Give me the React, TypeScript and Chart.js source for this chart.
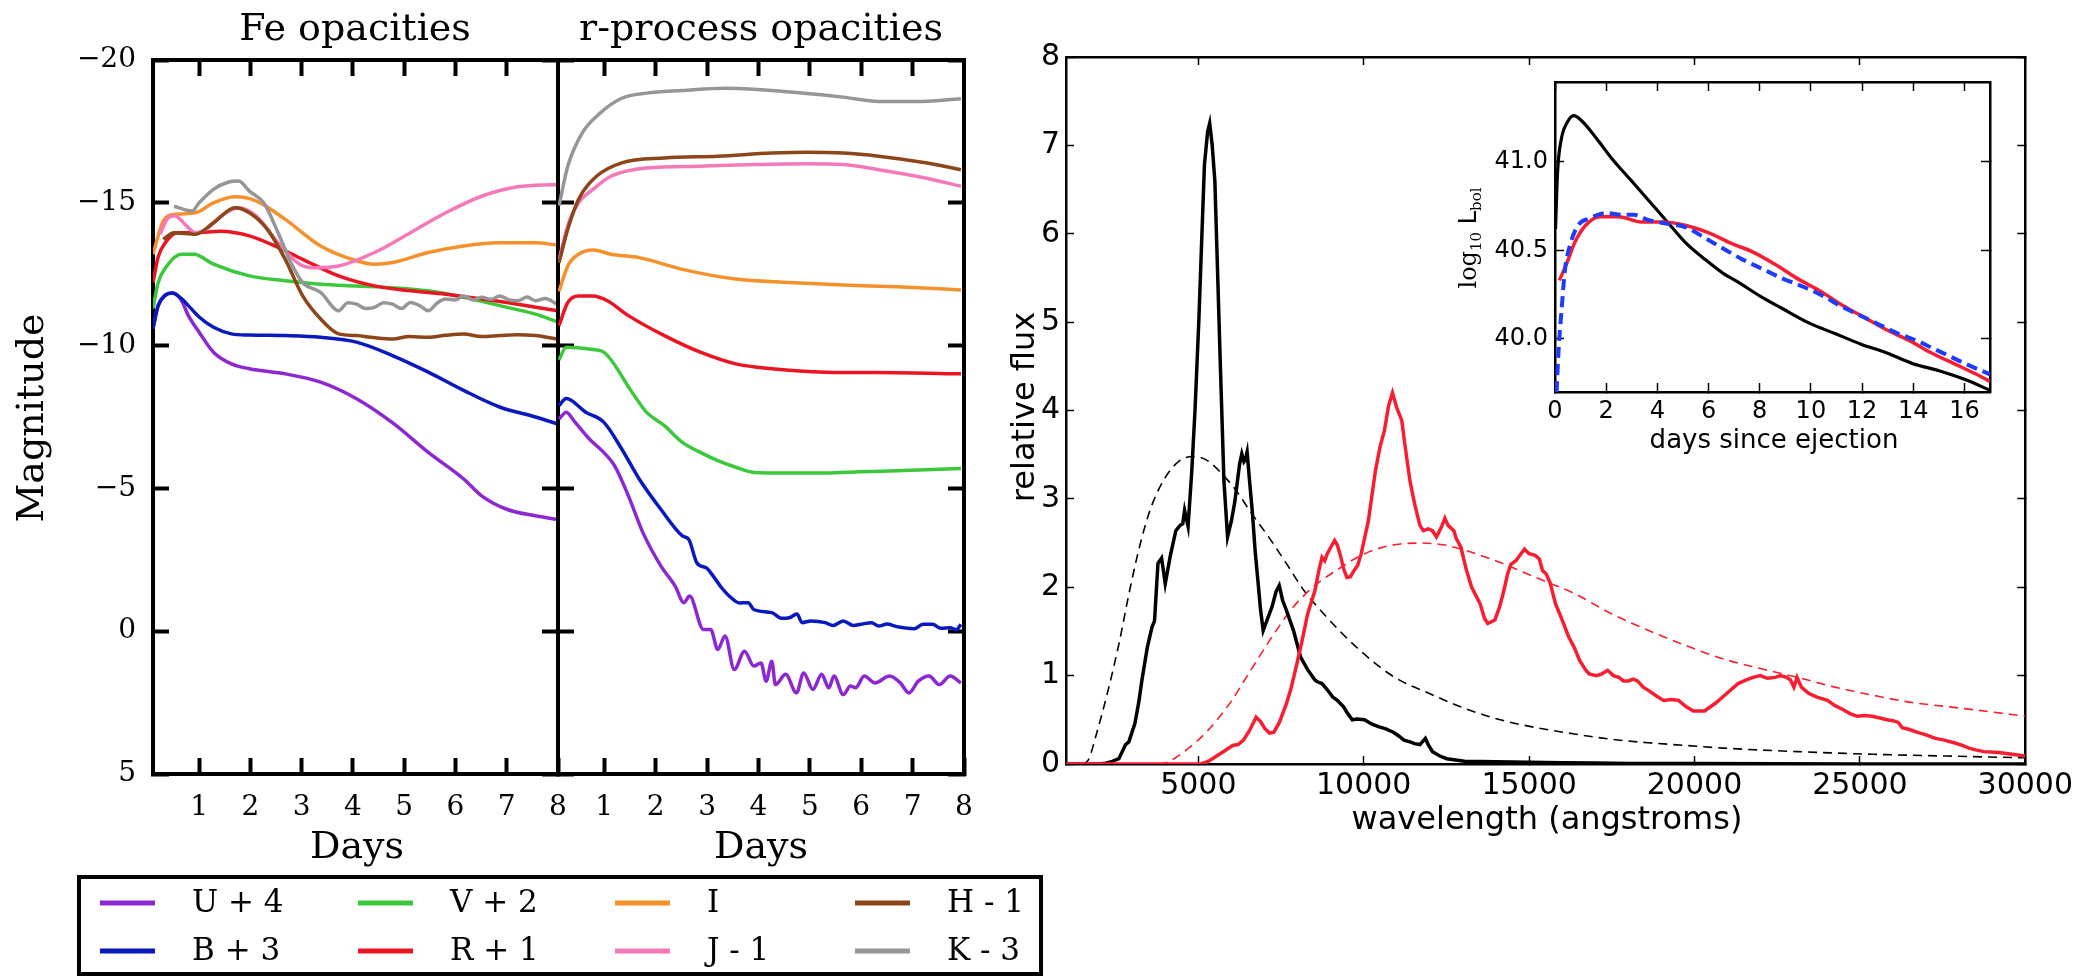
import React, { useEffect, useRef } from 'react';
import { Chart, registerables } from 'chart.js';

Chart.register(...registerables);

const W = 2085;
const H = 976;
const SERIF = "'DejaVu Serif', serif";
const SANS = "'DejaVu Sans', sans-serif";

type P = [number, number];

// ---------- tick values ----------
const DAY_TICKS = [1, 2, 3, 4, 5, 6, 7, 8];
const DAY_TOP_TICKS = [1, 2, 3, 4, 5, 6, 7];
const MAG_TICKS = [-20, -15, -10, -5, 0, 5];
const WAVE_TICKS = [5000, 10000, 15000, 20000, 25000, 30000];
const WAVE_TOP_TICKS = [5000, 10000, 15000, 20000, 25000];
const FLUX_TICKS = [0, 1, 2, 3, 4, 5, 6, 7, 8];
const INSET_DAY_TICKS = [0, 2, 4, 6, 8, 10, 12, 14, 16];
const INSET_L_TICKS = [40.0, 40.5, 41.0];

// ---------- bands ----------
const BANDS = ['U + 4', 'B + 3', 'V + 2', 'R + 1', 'I', 'J - 1', 'H - 1', 'K - 3'];
const BAND_COLORS = ['#8c28d2', '#0a19be', '#3cc83c', '#eb1423', '#f5912d', '#f578b9', '#8c4619', '#969696'];

// ---------- Fe opacities (days, magnitude) ----------
const FE_U: P[] = [[0.1, -10.6], [0.2, -11.4], [0.33, -11.75], [0.48, -11.84], [0.65, -11.6], [0.79, -11.05], [1.0, -10.47], [1.28, -9.77], [1.63, -9.36], [1.98, -9.19], [2.68, -9.01], [3.37, -8.72], [4.07, -8.14], [4.77, -7.3], [5.47, -6.26], [6.16, -5.33], [6.51, -4.74], [7.0, -4.27], [7.56, -4.04], [7.98, -3.92]];
const FE_B: P[] = [[0.1, -10.6], [0.2, -11.4], [0.33, -11.75], [0.48, -11.84], [0.65, -11.65], [0.79, -11.4], [1.0, -11.0], [1.28, -10.64], [1.63, -10.41], [1.98, -10.37], [2.68, -10.35], [3.37, -10.29], [4.07, -10.12], [4.77, -9.65], [5.47, -9.07], [6.16, -8.43], [6.86, -7.85], [7.56, -7.5], [7.98, -7.26]];
const FE_V: P[] = [[0.1, -11.3], [0.2, -12.2], [0.37, -12.79], [0.65, -13.2], [0.9, -13.2], [1.28, -12.85], [1.98, -12.44], [2.68, -12.27], [3.37, -12.15], [4.07, -12.09], [4.77, -12.03], [5.47, -11.92], [6.16, -11.69], [6.86, -11.4], [7.56, -11.1], [7.98, -10.84]];
const FE_R: P[] = [[0.1, -12.2], [0.2, -13.1], [0.34, -13.6], [0.58, -13.95], [0.93, -13.95], [1.42, -14.0], [1.98, -13.84], [2.4, -13.55], [3.02, -13.02], [3.72, -12.44], [4.42, -12.09], [5.12, -11.92], [5.81, -11.8], [6.51, -11.63], [7.21, -11.45], [7.98, -11.22]];
const FE_I: P[] = [[0.1, -13.2], [0.3, -14.36], [0.51, -14.59], [0.93, -14.65], [1.28, -15.0], [1.7, -15.21], [2.12, -15.06], [2.68, -14.42], [3.37, -13.49], [4.07, -12.97], [4.42, -12.85], [4.77, -12.91], [5.47, -13.26], [6.16, -13.49], [6.86, -13.6], [7.56, -13.6], [7.98, -13.52]];
const FE_J: P[] = [[0.24, -13.9], [0.37, -14.42], [0.52, -14.55], [0.75, -14.2], [0.93, -13.95], [1.14, -14.07], [1.42, -14.53], [1.77, -14.83], [2.12, -14.53], [2.54, -13.6], [2.96, -12.85], [3.23, -12.73], [3.72, -12.79], [4.42, -13.26], [5.12, -13.95], [5.81, -14.65], [6.51, -15.23], [7.21, -15.56], [7.98, -15.64]];
const FE_H: P[] = [[0.3, -13.72], [0.51, -13.95], [0.93, -13.9], [1.28, -14.3], [1.7, -14.83], [1.98, -14.65], [2.33, -14.07], [2.68, -13.02], [3.02, -11.74], [3.37, -10.93], [3.72, -10.41], [4.07, -10.35], [4.4, -10.28], [4.77, -10.23], [5.1, -10.32], [5.47, -10.29], [5.8, -10.36], [6.16, -10.41], [6.5, -10.32], [6.86, -10.35], [7.2, -10.38], [7.56, -10.35], [7.98, -10.23]];
const FE_K: P[] = [[0.51, -14.88], [0.86, -14.71], [1.0, -15.0], [1.28, -15.47], [1.56, -15.72], [1.77, -15.76], [1.98, -15.41], [2.26, -15.0], [2.54, -13.95], [2.82, -12.79], [3.02, -12.21], [3.37, -11.86], [3.72, -11.22], [3.9, -11.5], [4.07, -11.45], [4.25, -11.3], [4.42, -11.34], [4.6, -11.5], [4.77, -11.45], [4.95, -11.3], [5.12, -11.51], [5.3, -11.4], [5.47, -11.22], [5.65, -11.5], [5.81, -11.63], [6.0, -11.6], [6.16, -11.74], [6.35, -11.6], [6.51, -11.69], [6.7, -11.62], [6.86, -11.74], [7.05, -11.6], [7.21, -11.57], [7.4, -11.7], [7.56, -11.57], [7.75, -11.65], [7.98, -11.45]];

// ---------- r-process opacities (days, magnitude) ----------
const RP_U: P[] = [[0.12, -7.43], [0.26, -7.67], [0.43, -7.32], [0.71, -6.73], [0.99, -6.26], [1.2, -5.8], [1.47, -4.74], [1.75, -3.46], [2.1, -2.29], [2.38, -1.58], [2.55, -1.0], [2.66, -1.23], [2.93, -0.06], [3.07, -0.06], [3.21, 0.64], [3.35, 0.17], [3.53, 1.34], [3.73, 0.7], [3.91, 1.22], [4.05, 1.11], [4.15, 1.75], [4.26, 1.05], [4.33, 1.87], [4.53, 1.51], [4.74, 2.16], [4.88, 1.46], [5.06, 2.04], [5.23, 1.51], [5.37, 1.98], [5.47, 1.57], [5.65, 2.22], [5.79, 1.92], [5.89, 1.98], [6.06, 1.57], [6.27, 1.81], [6.55, 1.57], [6.76, 1.81], [6.93, 2.16], [7.11, 1.75], [7.32, 1.57], [7.52, 1.87], [7.73, 1.57], [7.94, 1.81]];
const RP_B: P[] = [[0.12, -7.9], [0.26, -8.15], [0.64, -7.67], [0.99, -7.32], [1.34, -6.38], [1.68, -5.33], [2.1, -4.27], [2.52, -3.34], [2.65, -3.2], [2.8, -2.4], [3.0, -2.2], [3.07, -2.05], [3.28, -1.53], [3.45, -1.2], [3.63, -0.99], [3.8, -1.0], [3.91, -0.76], [4.26, -0.65], [4.45, -0.45], [4.6, -0.47], [4.75, -0.6], [4.85, -0.3], [5.02, -0.36], [5.3, -0.3], [5.45, -0.2], [5.65, -0.36], [5.85, -0.2], [5.99, -0.24], [6.2, -0.3], [6.34, -0.18], [6.5, -0.25], [6.69, -0.16], [7.04, -0.09], [7.2, -0.24], [7.39, -0.24], [7.55, -0.1], [7.73, -0.12], [7.85, -0.05], [7.94, -0.24]];
const RP_V: P[] = [[0.12, -9.5], [0.26, -9.94], [0.78, -9.86], [0.99, -9.77], [1.54, -8.37], [1.82, -7.67], [2.17, -7.2], [2.52, -6.61], [2.87, -6.26], [3.21, -5.97], [3.56, -5.74], [3.91, -5.56], [4.6, -5.54], [5.3, -5.54], [5.99, -5.58], [6.69, -5.62], [7.94, -5.7]];
const RP_R: P[] = [[0.12, -10.7], [0.29, -11.51], [0.5, -11.74], [0.78, -11.74], [1.06, -11.57], [1.47, -11.05], [2.17, -10.35], [2.87, -9.77], [3.56, -9.36], [4.26, -9.19], [5.3, -9.07], [6.69, -9.05], [7.94, -9.01]];
const RP_I: P[] = [[0.12, -11.9], [0.29, -12.79], [0.5, -13.2], [0.78, -13.35], [1.13, -13.2], [1.68, -13.08], [2.52, -12.67], [3.56, -12.33], [4.6, -12.21], [5.65, -12.12], [6.69, -12.06], [7.94, -11.95]];
const RP_J: P[] = [[0.12, -13.0], [0.29, -14.2], [0.5, -15.0], [0.78, -15.47], [1.13, -15.93], [1.82, -16.22], [2.87, -16.28], [3.91, -16.34], [4.95, -16.37], [5.65, -16.34], [6.34, -16.16], [7.25, -15.87], [7.94, -15.58]];
const RP_H: P[] = [[0.12, -12.9], [0.29, -14.07], [0.5, -15.12], [0.85, -15.93], [1.34, -16.4], [2.17, -16.57], [3.21, -16.63], [4.26, -16.74], [4.95, -16.77], [5.65, -16.74], [6.34, -16.63], [7.25, -16.4], [7.94, -16.16]];
const RP_K: P[] = [[0.12, -14.9], [0.29, -16.28], [0.57, -17.44], [0.92, -18.14], [1.34, -18.66], [1.82, -18.84], [2.52, -18.93], [3.35, -19.01], [3.91, -18.98], [4.74, -18.86], [5.65, -18.7], [6.34, -18.55], [7.04, -18.55], [7.94, -18.64]];

// ---------- spectra (wavelength in angstroms, relative flux) ----------
const SPEC_FE: P[] = [[1000, 0], [2000, 0], [2200, 0.01], [2400, 0.03], [2600, 0.06], [2800, 0.22], [2900, 0.25], [3084, 0.46], [3200, 0.7], [3296, 0.95], [3458, 1.32], [3600, 1.55], [3676, 1.62], [3780, 2.27], [3890, 2.33], [4000, 2.04], [4150, 2.35], [4320, 2.64], [4450, 2.7], [4530, 2.72], [4585, 2.87], [4690, 2.69], [4800, 3.3], [4900, 4.0], [5015, 5.01], [5100, 5.9], [5185, 6.78], [5280, 7.15], [5344, 7.25], [5420, 7.0], [5500, 6.6], [5580, 5.6], [5667, 4.5], [5775, 3.2], [5884, 2.57], [6000, 2.75], [6100, 2.96], [6250, 3.4], [6315, 3.51], [6380, 3.42], [6420, 3.44], [6475, 3.53], [6550, 3.2], [6638, 2.83], [6720, 2.4], [6800, 2.08], [6880, 1.75], [6961, 1.51], [7100, 1.65], [7230, 1.78], [7350, 1.95], [7446, 2.02], [7550, 1.85], [7661, 1.74], [7878, 1.51], [8093, 1.21], [8300, 1.07], [8524, 0.95], [8600, 0.93], [8740, 0.91], [8900, 0.84], [9058, 0.76], [9200, 0.72], [9386, 0.65], [9500, 0.58], [9655, 0.5], [9800, 0.51], [10022, 0.5], [10250, 0.45], [10464, 0.42], [10650, 0.4], [10895, 0.36], [11050, 0.32], [11218, 0.27], [11400, 0.25], [11540, 0.23], [11700, 0.22], [11864, 0.29], [11950, 0.22], [12080, 0.14], [12300, 0.09], [12510, 0.06], [13050, 0.03], [14000, 0.025], [15000, 0.02], [16000, 0.015], [17000, 0.01], [18000, 0.005], [20000, 0.005], [25000, 0], [30000, 0]];
const SPEC_RP: P[] = [[1000, 0], [5075, 0], [5300, 0.03], [5507, 0.08], [5800, 0.15], [6040, 0.21], [6200, 0.22], [6364, 0.27], [6550, 0.38], [6747, 0.53], [6880, 0.48], [7015, 0.4], [7150, 0.35], [7285, 0.36], [7450, 0.47], [7661, 0.68], [7800, 0.85], [7984, 1.14], [8150, 1.42], [8307, 1.7], [8524, 1.96], [8650, 2.2], [8740, 2.34], [8820, 2.3], [8900, 2.38], [9000, 2.45], [9120, 2.53], [9200, 2.48], [9280, 2.38], [9400, 2.2], [9493, 2.11], [9600, 2.12], [9710, 2.19], [9820, 2.25], [9925, 2.38], [10140, 2.75], [10355, 3.32], [10500, 3.6], [10625, 3.77], [10750, 4.05], [10870, 4.2], [11000, 4.03], [11150, 3.89], [11250, 3.6], [11400, 3.2], [11540, 2.94], [11700, 2.7], [11804, 2.64], [11950, 2.66], [12080, 2.64], [12200, 2.57], [12350, 2.68], [12455, 2.78], [12550, 2.7], [12726, 2.64], [12800, 2.55], [12941, 2.45], [13100, 2.2], [13264, 2.0], [13400, 1.9], [13523, 1.81], [13650, 1.65], [13750, 1.59], [13966, 1.63], [14111, 1.78], [14235, 1.96], [14350, 2.15], [14450, 2.26], [14600, 2.3], [14700, 2.35], [14860, 2.43], [15000, 2.38], [15180, 2.36], [15310, 2.32], [15405, 2.19], [15518, 2.15], [15635, 2.05], [15800, 1.81], [15969, 1.66], [16194, 1.44], [16363, 1.32], [16532, 1.17], [16700, 1.07], [16813, 1.02], [17040, 1.0], [17200, 1.02], [17376, 1.06], [17550, 1.0], [17714, 0.98], [17850, 0.94], [17996, 0.94], [18150, 0.96], [18277, 0.94], [18450, 0.87], [18615, 0.83], [18850, 0.77], [19065, 0.72], [19300, 0.73], [19516, 0.72], [19741, 0.65], [19966, 0.6], [20150, 0.6], [20304, 0.6], [20642, 0.69], [20980, 0.8], [21317, 0.91], [21550, 0.95], [21768, 0.98], [21993, 1.0], [22200, 0.97], [22444, 0.98], [22600, 1.0], [22781, 0.98], [22900, 0.95], [23006, 0.87], [23100, 0.98], [23232, 0.87], [23450, 0.8], [23682, 0.76], [24020, 0.72], [24250, 0.66], [24470, 0.62], [24700, 0.57], [24921, 0.54], [25150, 0.55], [25371, 0.54], [25600, 0.52], [25821, 0.5], [26000, 0.49], [26160, 0.47], [26280, 0.41], [26500, 0.39], [26722, 0.36], [27000, 0.33], [27285, 0.29], [27550, 0.27], [27848, 0.24], [28100, 0.21], [28298, 0.18], [28500, 0.16], [28749, 0.14], [29199, 0.13], [29600, 0.11], [30000, 0.09]];
const BB_FE: P[] = [[1500, 0], [1681, 0.05], [1950, 0.38], [2270, 0.83], [2600, 1.36], [2922, 1.96], [3244, 2.49], [3567, 2.9], [3998, 3.24], [4430, 3.43], [4860, 3.48], [5290, 3.43], [5721, 3.28], [6153, 3.09], [6584, 2.85], [7124, 2.57], [7661, 2.27], [8200, 1.96], [8740, 1.72], [9815, 1.31], [10895, 0.99], [11972, 0.8], [13050, 0.63], [14126, 0.5], [15237, 0.41], [16363, 0.34], [17489, 0.28], [18615, 0.24], [19741, 0.21], [20867, 0.18], [23119, 0.14], [25371, 0.11], [27623, 0.09], [30000, 0.07]];
const BB_RP: P[] = [[3800, 0], [4000, 0.01], [4644, 0.16], [5290, 0.38], [5938, 0.68], [6584, 1.06], [7230, 1.44], [7878, 1.78], [8524, 2.02], [9170, 2.19], [9815, 2.34], [10464, 2.44], [11110, 2.49], [11755, 2.5], [12403, 2.48], [13050, 2.42], [14126, 2.28], [15203, 2.11], [16363, 1.93], [17489, 1.7], [18615, 1.51], [19741, 1.34], [20867, 1.19], [21993, 1.08], [23119, 0.98], [24245, 0.87], [25371, 0.78], [26497, 0.7], [27623, 0.65], [28749, 0.6], [30000, 0.54]];

// ---------- inset: log10 L_bol vs days since ejection ----------
const LBOL_FE: P[] = [[0.02, 40.62], [0.1, 40.94], [0.25, 41.13], [0.47, 41.22], [0.73, 41.26], [1.05, 41.23], [1.63, 41.13], [2.21, 41.02], [2.94, 40.9], [3.67, 40.78], [4.39, 40.66], [5.12, 40.54], [5.85, 40.45], [6.57, 40.37], [7.16, 40.32], [8.03, 40.24], [8.9, 40.17], [9.92, 40.09], [10.94, 40.03], [11.96, 39.97], [12.97, 39.92], [13.99, 39.86], [15.01, 39.82], [16.03, 39.77], [17, 39.71]];
const LBOL_RP: P[] = [[0.17, 40.33], [0.47, 40.43], [0.76, 40.54], [1.19, 40.64], [1.77, 40.69], [2.5, 40.69], [3.37, 40.66], [4.25, 40.66], [5.12, 40.64], [5.99, 40.6], [6.87, 40.54], [7.74, 40.49], [8.61, 40.42], [9.48, 40.34], [10.36, 40.27], [11.23, 40.19], [12.1, 40.12], [12.97, 40.05], [13.85, 39.99], [14.72, 39.92], [15.59, 39.86], [16.47, 39.8], [17, 39.76]];
const LBOL_MIX: P[] = [[0.06, 39.7], [0.15, 39.96], [0.25, 40.15], [0.39, 40.39], [0.61, 40.54], [0.9, 40.64], [1.34, 40.68], [1.99, 40.71], [2.65, 40.7], [3.08, 40.7], [3.67, 40.67], [4.39, 40.65], [5.12, 40.63], [5.85, 40.57], [6.57, 40.51], [7.3, 40.45], [8.17, 40.39], [8.9, 40.34], [9.77, 40.29], [10.5, 40.24], [11.23, 40.18], [11.96, 40.13], [12.68, 40.08], [13.41, 40.03], [14.14, 39.99], [14.72, 39.95], [15.45, 39.9], [16.03, 39.86], [17, 39.8]];

const FE_SERIES = [FE_U, FE_B, FE_V, FE_R, FE_I, FE_J, FE_H, FE_K];
const RP_SERIES = [RP_U, RP_B, RP_V, RP_R, RP_I, RP_J, RP_H, RP_K];

// ---------- helpers ----------
type TextItem = { t: string; x: number; y: number; f: string; a?: CanvasTextAlign; b?: CanvasTextBaseline; r?: boolean };

function drawTexts(ctx: CanvasRenderingContext2D, items: TextItem[]) {
  for (const it of items) {
    ctx.save();
    ctx.font = it.f;
    ctx.fillStyle = '#000';
    ctx.textAlign = it.a ?? 'center';
    ctx.textBaseline = it.b ?? 'alphabetic';
    ctx.translate(it.x, it.y);
    if (it.r) ctx.rotate(-Math.PI / 2);
    ctx.fillText(it.t, 0, 0);
    ctx.restore();
  }
}

const minusFmt = (v: number) => (v < 0 ? '\u2212' + Math.abs(v) : String(v));

type Area = { left: number; top: number; right: number; bottom: number };

type AxisCfg = {
  area: Area;
  xMin: number; xMax: number; xTicks: number[]; xTopTicks: number[];
  yMin: number; yMax: number; yTicks: number[]; yRightTicks: number[]; reverseY: boolean;
  tl: number; tw: number; bw: number; font: any; showX: boolean; showY: boolean;
  padX: number; padY: number; xFmt: (v: number) => string; yFmt: (v: number) => string;
};

function buildScales(c: AxisCfg) {
  const grid = { display: true, drawOnChartArea: false, drawTicks: true, tickLength: -c.tl, tickWidth: c.tw, tickColor: '#000', color: '#000' };
  const border = { display: true, width: c.bw, color: '#000' };
  const setTicks = (vals: number[]) => (s: any) => { s.ticks = vals.map((v) => ({ value: v })); };
  const bottomH = H - c.area.bottom;
  const leftW = c.area.left;
  const common = { type: 'linear', bounds: 'data', grid, border };
  return {
    x: { ...common, axis: 'x', position: 'bottom', min: c.xMin, max: c.xMax, afterBuildTicks: setTicks(c.xTicks),
      afterFit: (s: any) => { s.height = bottomH; },
      ticks: { display: c.showX, font: c.font, color: '#000', padding: c.padX, autoSkip: false, maxRotation: 0, minRotation: 0, callback: (v: any) => c.xFmt(Number(v)) } },
    x2: { ...common, axis: 'x', position: 'top', min: c.xMin, max: c.xMax, afterBuildTicks: setTicks(c.xTopTicks),
      afterFit: (s: any) => { s.height = 0; }, ticks: { display: false } },
    y: { ...common, axis: 'y', position: 'left', min: c.yMin, max: c.yMax, reverse: c.reverseY, afterBuildTicks: setTicks(c.yTicks),
      afterFit: (s: any) => { s.width = leftW; },
      ticks: { display: c.showY, font: c.font, color: '#000', padding: c.padY, autoSkip: false, callback: (v: any) => c.yFmt(Number(v)) } },
    y2: { ...common, axis: 'y', position: 'right', min: c.yMin, max: c.yMax, reverse: c.reverseY, afterBuildTicks: setTicks(c.yRightTicks),
      afterFit: (s: any) => { s.width = 0; }, ticks: { display: false } },
  };
}

function line(label: string, pts: P[], color: string, width: number, extra: any = {}) {
  return {
    label,
    data: pts.map(([x, y]) => ({ x, y })),
    borderColor: color,
    backgroundColor: color,
    borderWidth: width,
    pointRadius: 0,
    fill: false,
    ...extra,
  };
}

function baseOptions(area: Area, scales: any) {
  return {
    responsive: false,
    maintainAspectRatio: false,
    animation: false,
    devicePixelRatio: 1,
    events: [],
    layout: { padding: { left: 0, top: area.top, right: W - area.right, bottom: 0 } },
    plugins: { legend: { display: false }, tooltip: { enabled: false }, title: { display: false } },
    scales,
  };
}

function magDatasets(series: P[][]) {
  const list = series.map((pts, i) => line(BANDS[i], pts, BAND_COLORS[i], 3.5, { cubicInterpolationMode: 'monotone' }));
  return list.reverse();
}

// ---------- chart factories ----------
const FE_AREA: Area = { left: 153, top: 60, right: 558, bottom: 774 };
const RP_AREA: Area = { left: 558, top: 60, right: 964, bottom: 774 };
const SPEC_AREA: Area = { left: 1066, top: 57, right: 2027, bottom: 764 };
const INSET_AREA: Area = { left: 1555, top: 82, right: 1990, bottom: 392 };

function makeFe() {
  const scales = buildScales({
    area: FE_AREA,
    xMin: 0.1, xMax: 8, xTicks: DAY_TICKS, xTopTicks: DAY_TOP_TICKS,
    yMin: -20, yMax: 5, yTicks: MAG_TICKS, yRightTicks: MAG_TICKS, reverseY: true,
    tl: 16, tw: 4, bw: 4, font: { family: SERIF, size: 28 }, showX: true, showY: true,
    padX: 33, padY: 33, xFmt: (v) => String(v), yFmt: minusFmt,
  });
  const texts: TextItem[] = [
    { t: 'Fe opacities', x: 355, y: 40, f: `38px ${SERIF}` },
    { t: 'Magnitude', x: 43, y: 418, f: `38px ${SERIF}`, r: true },
    { t: 'Days', x: 357, y: 858, f: `38px ${SERIF}` },
  ];
  const legendPlugin = {
    id: 'feText',
    afterDraw(chart: any) {
      const ctx: CanvasRenderingContext2D = chart.ctx;
      drawTexts(ctx, texts);
      ctx.save();
      ctx.strokeStyle = '#000';
      ctx.lineWidth = 4;
      ctx.strokeRect(79, 877, 962, 97);
      const lineX = [100, 358, 615, 855];
      const textX = [192, 450, 707, 947];
      const rowY = [904, 952];
      BANDS.forEach((b, i) => {
        const col = Math.floor(i / 2);
        const row = i % 2;
        ctx.strokeStyle = BAND_COLORS[i];
        ctx.lineWidth = 5;
        ctx.beginPath();
        ctx.moveTo(lineX[col], rowY[row] - 1);
        ctx.lineTo(lineX[col] + 55, rowY[row] - 1);
        ctx.stroke();
        ctx.fillStyle = '#000';
        ctx.font = `31px ${SERIF}`;
        ctx.textAlign = 'left';
        ctx.textBaseline = 'middle';
        ctx.fillText(b, textX[col], rowY[row]);
      });
      ctx.restore();
    },
  };
  return {
    type: 'line',
    data: { datasets: magDatasets(FE_SERIES) },
    options: baseOptions(FE_AREA, scales),
    plugins: [legendPlugin],
  };
}

function makeRp() {
  const scales = buildScales({
    area: RP_AREA,
    xMin: 0.1, xMax: 8, xTicks: DAY_TICKS, xTopTicks: DAY_TOP_TICKS,
    yMin: -20, yMax: 5, yTicks: MAG_TICKS, yRightTicks: MAG_TICKS, reverseY: true,
    tl: 16, tw: 4, bw: 4, font: { family: SERIF, size: 28 }, showX: true, showY: false,
    padX: 33, padY: 33, xFmt: (v) => String(v), yFmt: minusFmt,
  });
  const texts: TextItem[] = [
    { t: 'r-process opacities', x: 761, y: 40, f: `38px ${SERIF}` },
    { t: 'Days', x: 761, y: 858, f: `38px ${SERIF}` },
  ];
  return {
    type: 'line',
    data: { datasets: magDatasets(RP_SERIES) },
    options: baseOptions(RP_AREA, scales),
    plugins: [{ id: 'rpText', afterDraw(chart: any) { drawTexts(chart.ctx, texts); } }],
  };
}

const SPEC_RED = '#f81e32';

function makeSpectrum() {
  const scales = buildScales({
    area: SPEC_AREA,
    xMin: 1000, xMax: 30000, xTicks: WAVE_TICKS, xTopTicks: WAVE_TOP_TICKS,
    yMin: 0, yMax: 8, yTicks: FLUX_TICKS, yRightTicks: FLUX_TICKS, reverseY: false,
    tl: 8, tw: 1.5, bw: 2.5, font: { family: SANS, size: 30 }, showX: true, showY: true,
    padX: 12, padY: 14, xFmt: (v) => String(v), yFmt: (v) => String(v),
  });
  const texts: TextItem[] = [
    { t: 'relative flux', x: 1034, y: 407, f: `32px ${SANS}`, r: true },
    { t: 'wavelength (angstroms)', x: 1547, y: 829, f: `32px ${SANS}` },
  ];
  return {
    type: 'line',
    data: {
      datasets: [
        line('r-process spectrum', SPEC_RP, SPEC_RED, 3.5, { tension: 0 }),
        line('Fe spectrum', SPEC_FE, '#000', 3.5, { tension: 0 }),
        line('r-process blackbody', BB_RP, SPEC_RED, 1.6, { borderDash: [9, 6], cubicInterpolationMode: 'monotone' }),
        line('Fe blackbody', BB_FE, '#000', 1.6, { borderDash: [9, 6], cubicInterpolationMode: 'monotone' }),
      ],
    },
    options: baseOptions(SPEC_AREA, scales),
    plugins: [{ id: 'specText', afterDraw(chart: any) { drawTexts(chart.ctx, texts); } }],
  };
}

function makeInset() {
  const scales = buildScales({
    area: INSET_AREA,
    xMin: 0, xMax: 17, xTicks: INSET_DAY_TICKS, xTopTicks: INSET_DAY_TICKS,
    yMin: 39.7, yMax: 41.45, yTicks: INSET_L_TICKS, yRightTicks: INSET_L_TICKS, reverseY: false,
    tl: 9, tw: 1.5, bw: 2.5, font: { family: SANS, size: 24 }, showX: true, showY: true,
    padX: 14, padY: 16, xFmt: (v) => String(v), yFmt: (v) => v.toFixed(1),
  });
  const texts: TextItem[] = [{ t: 'days since ejection', x: 1774, y: 448, f: `26px ${SANS}` }];
  const plugin = {
    id: 'insetText',
    beforeDraw(chart: any) {
      const { ctx, chartArea: a } = chart;
      ctx.save();
      ctx.fillStyle = '#fff';
      ctx.fillRect(a.left, a.top, a.right - a.left, a.bottom - a.top);
      ctx.restore();
    },
    afterDraw(chart: any) {
      const ctx: CanvasRenderingContext2D = chart.ctx;
      drawTexts(ctx, texts);
      const parts = [
        { t: 'log', f: `24px ${SERIF}`, dy: 0 },
        { t: '10', f: `15px ${SERIF}`, dy: 5 },
        { t: ' L', f: `24px ${SANS}`, dy: 0 },
        { t: 'bol', f: `15px ${SERIF}`, dy: 5 },
      ];
      ctx.save();
      let total = 0;
      const widths = parts.map((p) => { ctx.font = p.f; const w = ctx.measureText(p.t).width; total += w; return w; });
      ctx.translate(1476, 238);
      ctx.rotate(-Math.PI / 2);
      ctx.fillStyle = '#000';
      ctx.textAlign = 'left';
      ctx.textBaseline = 'alphabetic';
      let x = -total / 2;
      parts.forEach((p, i) => { ctx.font = p.f; ctx.fillText(p.t, x, p.dy); x += widths[i]; });
      ctx.restore();
    },
  };
  return {
    type: 'line',
    data: {
      datasets: [
        line('mixed', LBOL_MIX, '#1e3cff', 4, { borderDash: [11, 6], cubicInterpolationMode: 'monotone' }),
        line('r-process', LBOL_RP, SPEC_RED, 3.5, { cubicInterpolationMode: 'monotone' }),
        line('Fe', LBOL_FE, '#000', 3.2, { cubicInterpolationMode: 'monotone' }),
      ],
    },
    options: baseOptions(INSET_AREA, scales),
    plugins: [plugin],
  };
}

function Layer({ make }: { make: () => any }) {
  const ref = useRef<HTMLCanvasElement>(null);
  useEffect(() => {
    if (!ref.current) return;
    const chart = new Chart(ref.current, make() as any);
    return () => chart.destroy();
  }, [make]);
  return (
    <canvas
      ref={ref}
      width={W}
      height={H}
      style={{ position: 'absolute', left: 0, top: 0, width: W, height: H }}
    />
  );
}

export default function App() {
  return (
    <div style={{ position: 'absolute', left: 0, top: 0, width: W, height: H, background: '#fff', overflow: 'hidden' }}>
      <Layer make={makeFe} />
      <Layer make={makeRp} />
      <Layer make={makeSpectrum} />
      <Layer make={makeInset} />
    </div>
  );
}
